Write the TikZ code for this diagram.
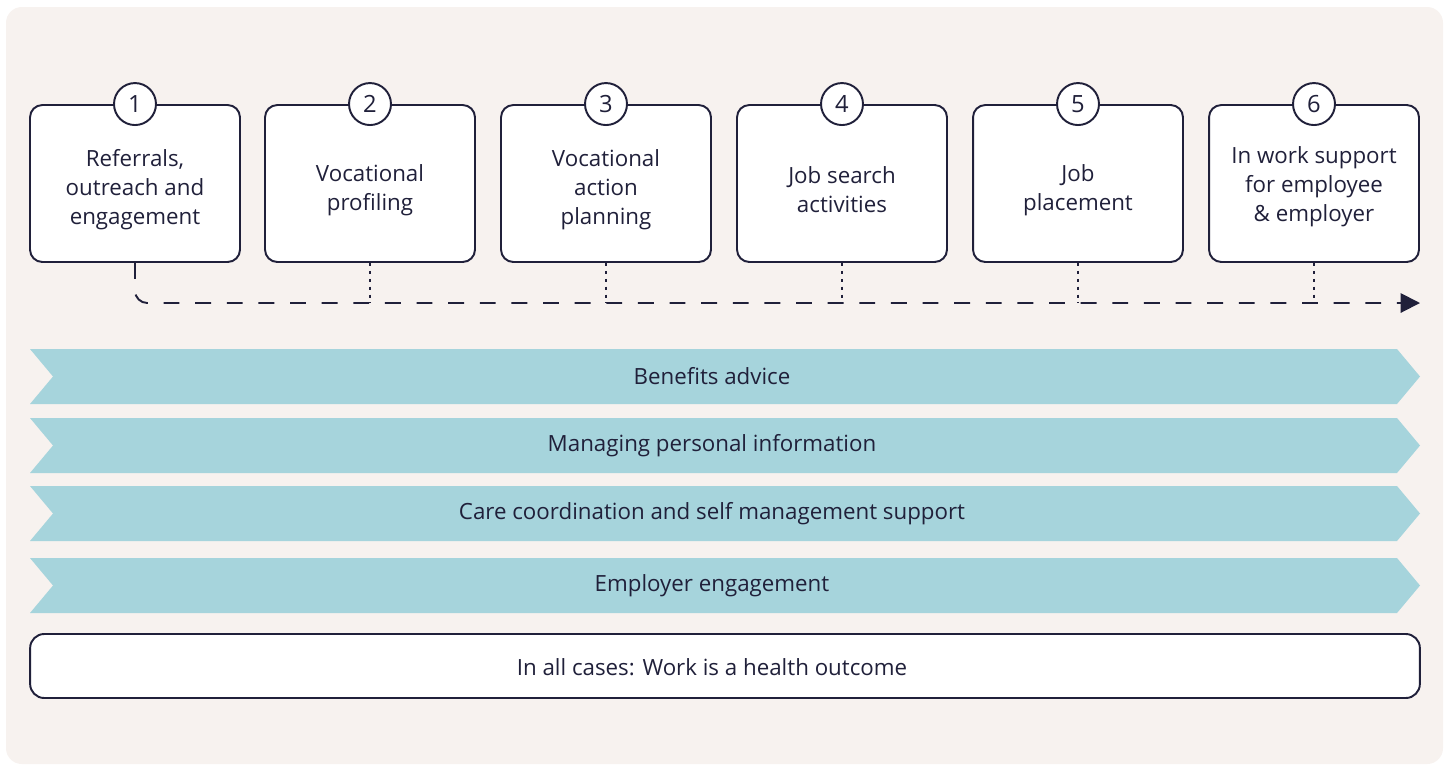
\documentclass[tikz,border=0pt]{standalone}
\usepackage{fontspec}
\setmainfont{Open Sans}
\usetikzlibrary{arrows.meta,positioning}
\definecolor{navy}{HTML}{20203A}
\definecolor{paper}{HTML}{F7F2EF}
\definecolor{band}{HTML}{A6D4DC}
\tikzset{
  stage/.style={draw=navy, line width=1.1pt, fill=white, rounded corners=7pt,
    minimum width=4.2cm, minimum height=3.14cm},
  stagetext/.style={align=center, text=navy, font=\fontsize{12.7}{16.5}\selectfont},
  num/.style={circle, draw=navy, line width=1.1pt, fill=white, minimum size=0.84cm,
    inner sep=0pt, text=navy, font=\fontsize{13.5}{13.5}\selectfont},
  flow/.style={draw=navy, line width=1.1pt, dash pattern=on 9pt off 9pt},
  tick/.style={draw=navy, line width=1.1pt, dash pattern=on 2pt off 2.5pt},
  strip/.style={fill=band},
  striptext/.style={text=navy, font=\fontsize{12.7}{14}\selectfont},
  bar/.style={draw=navy, line width=1.1pt, fill=white, rounded corners=8pt,
    minimum width=27.8cm, minimum height=1.28cm}
}
\begin{document}
\begin{tikzpicture}[x=0.02cm,y=-0.02cm]
\useasboundingbox (0,0) rectangle (1450,765);
\fill[paper, rounded corners=9pt] (6,7) rectangle (1443,764);

\node[stage] (s1) at (135,183.5) {};
\node[stage] (s2) at (370,183.5) {};
\node[stage] (s3) at (606,183.5) {};
\node[stage] (s4) at (842,183.5) {};
\node[stage] (s5) at (1078,183.5) {};
\node[stage] (s6) at (1314,183.5) {};
\node[stagetext] (t1) at (135,190) {Referrals,\\outreach and\\engagement};
\node[stagetext] (t2) at (370,190) {Vocational\\profiling};
\node[stagetext] (t3) at (606,190) {Vocational\\action\\planning};
\node[stagetext] (t4) at (842,190) {Job search\\activities};
\node[stagetext] (t5) at (1078,190) {Job\\placement};
\node[stagetext] (t6) at (1314,187) {In work support\\for employee\\\& employer};
\node[num] (n1) at (s1.north) {1};
\node[num] (n2) at (s2.north) {2};
\node[num] (n3) at (s3.north) {3};
\node[num] (n4) at (s4.north) {4};
\node[num] (n5) at (s5.north) {5};
\node[num] (n6) at (s6.north) {6};

\coordinate (end) at (1420,303);
\draw[flow, rounded corners=7pt, -{Triangle[length=11pt,width=11pt]}] (s1.south) |- (end);
\draw[tick] (s2.south) -- (s2.south |- end);
\draw[tick] (s3.south) -- (s3.south |- end);
\draw[tick] (s4.south) -- (s4.south |- end);
\draw[tick] (s5.south) -- (s5.south |- end);
\draw[tick] (s6.south) -- (s6.south |- end);

\fill[strip] (30,349) -- (1397,349) -- (1420,376.5) -- (1397,404) -- (30,404) -- (53,376.5) -- cycle;
\fill[strip] (30,418) -- (1397,418) -- (1420,445.5) -- (1397,473) -- (30,473) -- (53,445.5) -- cycle;
\fill[strip] (30,486) -- (1397,486) -- (1420,513.5) -- (1397,541) -- (30,541) -- (53,513.5) -- cycle;
\fill[strip] (30,558) -- (1397,558) -- (1420,585.5) -- (1397,613) -- (30,613) -- (53,585.5) -- cycle;
\node[striptext] (benefits) at (712,376.5) {Benefits advice};
\node[striptext] (personal) at (712,445.5) {Managing personal information};
\node[striptext] (care) at (712,513.5) {Care coordination and self management support};
\node[striptext] (employer) at (712,585.5) {Employer engagement};

\node[bar] (cases) at (725,666) {};
\node[striptext] (outcome) at (712,667) {In all cases: Work is a health outcome};
\end{tikzpicture}
\end{document}
